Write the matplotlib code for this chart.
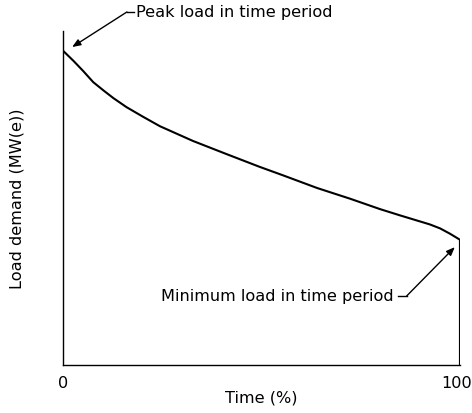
import matplotlib.pyplot as plt
import matplotlib.transforms as mtransforms

# load duration curve (time %, load as % of axis height)
time_pct = [0, 2.6, 5.1, 7.6, 10.2, 12.7, 16.0, 20.2, 24.4, 32.7, 41.3, 49.6, 55.4,
            64.0, 72.3, 79.8, 84.9, 89.9, 92.4, 95.0, 97.5, 100, 100]
load = [94.1, 91.1, 88.0, 84.7, 82.2, 79.9, 77.2, 74.3, 71.5, 67.1, 63.1, 59.3, 56.8,
        53.0, 49.8, 46.7, 44.8, 43.0, 42.1, 40.9, 39.3, 37.5, 0]

x_ticks = [0, 100]
x_ticklabels = ["0", "100"]

FS = 11.6
plt.rcParams['font.family'] = ['DejaVu Sans']

fig = plt.figure(figsize=(4.72, 4.14), dpi=100)
ax = fig.add_axes([0.1335, 0.1159, 0.841, 0.8068])

ax.plot(time_pct, load, color="black", lw=1.5, solid_joinstyle="round")

ax.set_xlim(0, 100)
ax.set_ylim(0, 100)
ax.spines["top"].set_visible(False)
ax.spines["right"].set_visible(False)
ax.spines["left"].set_linewidth(1.0)
ax.spines["bottom"].set_linewidth(1.0)
ax.set_xticks(x_ticks)
ax.set_xticklabels(x_ticklabels, fontsize=FS)
ax.set_yticks([])
ax.tick_params(axis="x", length=0, pad=7)

# nudge the "100" label left so it stays inside the figure
lbl = ax.get_xticklabels()[-1]
lbl.set_transform(lbl.get_transform() + mtransforms.ScaledTranslation(-3 / 100, 0, fig.dpi_scale_trans))

ax.set_xlabel("Time (%)", fontsize=FS, labelpad=0)
ax.set_ylabel("Load demand (MW(e))", fontsize=FS)
ax.yaxis.set_label_coords(-0.097, 0.5)

arrow = dict(arrowstyle="-|>,head_length=0.5,head_width=0.2", color="black", lw=1.0,
             shrinkA=0, shrinkB=0)

# peak annotation
ax.annotate("", xy=(2.3, 95.2), xytext=(16.1, 105.7), arrowprops=arrow,
            annotation_clip=False)
ax.plot([16.1, 17.8], [105.7, 105.7], color="black", lw=1.0, clip_on=False)
ax.text(18.3, 105.7, "Peak load in time period", fontsize=FS, va="center", ha="left")

# minimum annotation
ax.annotate("", xy=(98.7, 35.3), xytext=(86.6, 20.7), arrowprops=arrow,
            annotation_clip=False)
ax.plot([84.3, 86.6], [20.7, 20.7], color="black", lw=1.0)
ax.text(83.3, 20.7, "Minimum load in time period", fontsize=FS, va="center", ha="right")

fig.savefig("out.png", dpi=100)
